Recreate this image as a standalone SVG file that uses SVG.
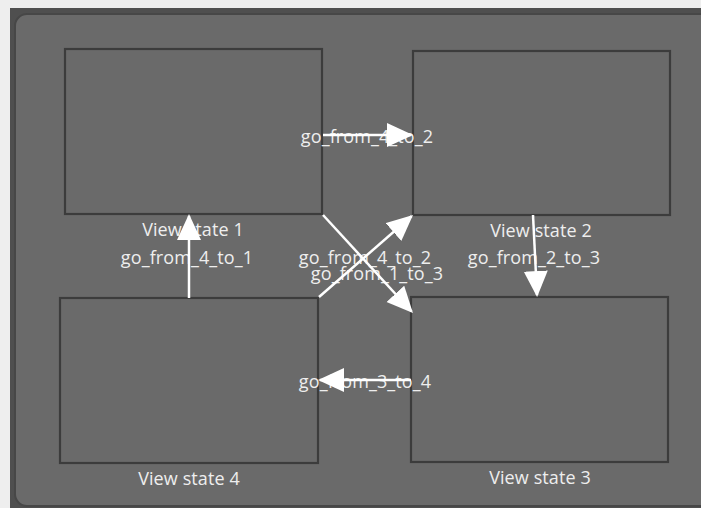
<svg xmlns="http://www.w3.org/2000/svg" width="701" height="508" viewBox="0 0 701 508">
  <style>
    .box { fill: #6a6a6a; stroke: #3c3c3c; stroke-width: 2.2; }
    .lbl { font-family: "Open Sans", "Noto Sans", sans-serif; font-size: 18px; letter-spacing: 0.1px; fill: #eeeeee; text-anchor: middle; }
    .conn { stroke: #ffffff; stroke-width: 2.5; fill: none; marker-end: url(#ah); }
  </style>
  <defs>
    <marker id="ah" markerUnits="userSpaceOnUse" markerWidth="28" markerHeight="26" refX="24" refY="12" orient="auto">
      <path d="M0,0 L26,12 L0,24 Z" fill="#ffffff"/>
    </marker>
  </defs>
  <rect x="0" y="0" width="701" height="508" fill="#eeeeee"/>
  <rect x="10" y="8" width="691" height="500" fill="#4f4f4f"/>
  <rect x="15" y="14" width="700" height="492" rx="12" ry="12" fill="#6a6a6a" stroke="#474747" stroke-width="2"/>

  <g id="node-view-state-1">
    <rect class="box" x="65" y="49" width="257" height="165"/>
    <text class="lbl" x="193" y="236">View state 1</text>
  </g>
  <g id="node-view-state-2">
    <rect class="box" x="413" y="51" width="257" height="164"/>
    <text class="lbl" x="541" y="237">View state 2</text>
  </g>
  <g id="node-view-state-4">
    <rect class="box" x="60" y="298" width="258" height="165"/>
    <text class="lbl" x="189" y="485">View state 4</text>
  </g>
  <g id="node-view-state-3">
    <rect class="box" x="411" y="297" width="257" height="165"/>
    <text class="lbl" x="540" y="484">View state 3</text>
  </g>

  <g id="connectors">
    <text class="lbl" x="367" y="143">go_from_4_to_2</text>
    <text class="lbl" x="187" y="264">go_from_4_to_1</text>
    <text class="lbl" x="534" y="264">go_from_2_to_3</text>
    <text class="lbl" x="365" y="264">go_from_4_to_2</text>
    <text class="lbl" x="377" y="280">go_from_1_to_3</text>
    <text class="lbl" x="365" y="388">go_from_3_to_4</text>
    <line class="conn" x1="323" y1="135" x2="411" y2="135"/>
    <line class="conn" x1="189" y1="298" x2="189" y2="216"/>
    <line class="conn" x1="533" y1="215" x2="537" y2="295"/>
    <line class="conn" x1="323" y1="215" x2="411.6" y2="311.5"/>
    <line class="conn" x1="319" y1="297" x2="411.5" y2="216.3"/>
    <line class="conn" x1="411" y1="380" x2="320" y2="380"/>
  </g>
</svg>
